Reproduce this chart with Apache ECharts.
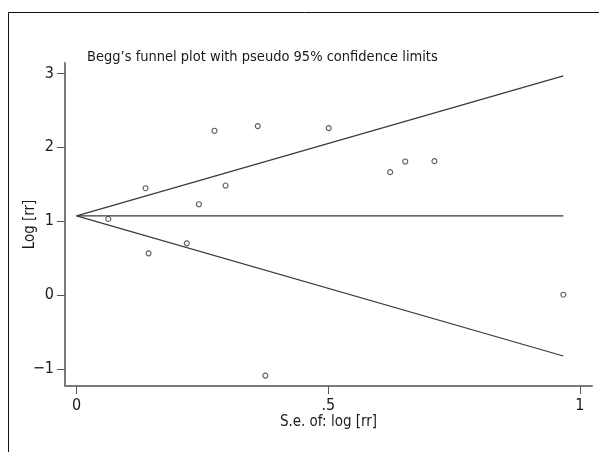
<!DOCTYPE html>
<html>
<head>
<meta charset="utf-8">
<script src="https://cdn.jsdelivr.net/npm/echarts@6/dist/echarts.min.js"></script>
<style>html,body{margin:0;padding:0;background:#fff}#c{width:599px;height:452px}</style>
</head>
<body>
<div id="c"></div>
<script>
// Study points: standard error of log[rr] and log[rr]
const seValues = [0.063, 0.137, 0.143, 0.219, 0.243, 0.274, 0.296, 0.360, 0.375, 0.501, 0.623, 0.653, 0.711, 0.967];
const logRR    = [1.03, 1.446, 0.565, 0.70, 1.229, 2.223, 1.482, 2.286, -1.089, 2.259, 1.663, 1.807, 1.812, 0.005];
// Pseudo 95% confidence limit lines (endpoints)
const limitSE    = [0, 0.967];
const centerLine = [1.071, 1.071];
const upperLimit = [1.071, 2.966];
const lowerLimit = [1.071, -0.824];
// Tick labels
const xTicks = [0, 0.5, 1];
const xTickLabels = ['0', '.5', '1'];
const yTicks = [-1, 0, 1, 2, 3];
const yTickLabels = ['\u22121', '0', '1', '2', '3'];

const FONT = "'Liberation Sans Narrow', 'DejaVu Sans Condensed', 'Noto Sans', sans-serif";
const pair = (xs, ys) => xs.map((x, i) => [x, ys[i]]);

const chart = echarts.init(document.getElementById('c'), null, {renderer: 'canvas'});
chart.setOption({
  animation: false,
  backgroundColor: '#fff',
  title: {
    text: 'Begg\u2019s funnel plot with pseudo 95% confidence limits',
    left: 87, top: 50, padding: 0,
    textStyle: {fontFamily: FONT, fontSize: 14.5, fontWeight: 'normal', color: '#1a1a1a'}
  },
  graphic: [{
    type: 'rect',
    shape: {x: 8.5, y: 12.5, width: 700, height: 600},
    style: {fill: 'none', stroke: '#111', lineWidth: 1},
    silent: true
  }],
  grid: {left: 65, right: 7, top: 63, bottom: 66},
  xAxis: {
    type: 'value', min: -0.023, max: 1.024,
    name: 'S.e. of: log [rr]', nameLocation: 'middle', nameGap: 29, nameMoveOverlap: false,
    nameTextStyle: {fontFamily: FONT, fontSize: 15, color: '#1a1a1a'},
    axisLine: {onZero: false, lineStyle: {color: '#7a7a7a', width: 2}},
    axisTick: {customValues: xTicks, length: 8, lineStyle: {color: '#555', width: 1}},
    axisLabel: {
      customValues: xTicks, margin: 12,
      fontFamily: FONT, fontSize: 16, color: '#1a1a1a',
      formatter: v => xTickLabels[xTicks.indexOf(v)] ?? ''
    },
    splitLine: {show: false}
  },
  yAxis: {
    type: 'value', min: -1.23, max: 3.14,
    name: 'Log [rr]', nameLocation: 'middle', nameGap: 27, nameMoveOverlap: false,
    nameTextStyle: {fontFamily: FONT, fontSize: 15, color: '#1a1a1a'},
    axisLine: {onZero: false, lineStyle: {color: '#7a7a7a', width: 2}},
    axisTick: {customValues: yTicks, length: 8, lineStyle: {color: '#555', width: 1}},
    axisLabel: {
      customValues: yTicks, margin: 11,
      fontFamily: FONT, fontSize: 16, color: '#1a1a1a',
      formatter: v => yTickLabels[yTicks.indexOf(v)] ?? ''
    },
    splitLine: {show: false}
  },
  series: [
    {type: 'line', data: pair(limitSE, centerLine), symbol: 'none', lineStyle: {color: '#3a3a3a', width: 1.2}},
    {type: 'line', data: pair(limitSE, upperLimit), symbol: 'none', lineStyle: {color: '#3a3a3a', width: 1.2}},
    {type: 'line', data: pair(limitSE, lowerLimit), symbol: 'none', lineStyle: {color: '#3a3a3a', width: 1.2}},
    {type: 'scatter', data: pair(seValues, logRR), symbol: 'circle', symbolSize: 5,
     itemStyle: {color: '#fff', borderColor: '#333', borderWidth: 1.1}}
  ]
});
</script>
</body>
</html>
